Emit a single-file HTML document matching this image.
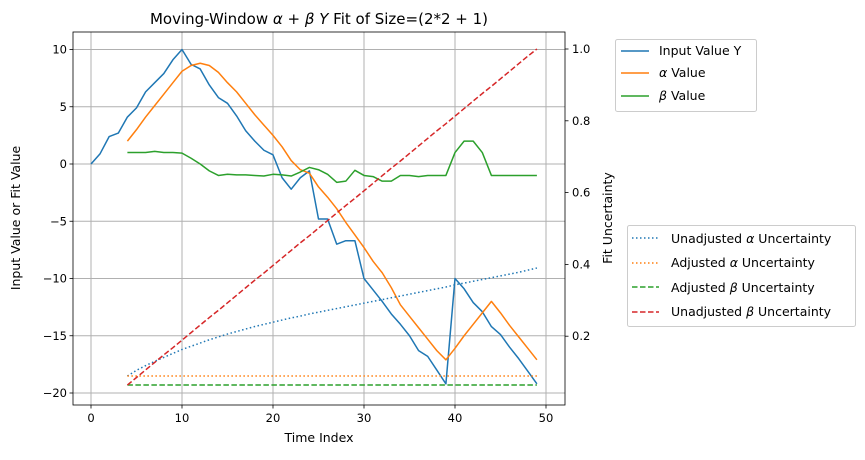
<!DOCTYPE html>
<html><head><meta charset="utf-8"><style>
body{margin:0;background:#fff;width:865px;height:455px;overflow:hidden}
svg{font-family:"DejaVu Sans","Liberation Sans",sans-serif}
</style></head><body>
<svg id="c" width="865" height="455" xmlns="http://www.w3.org/2000/svg"></svg>
<script>
const timeIndex=[...Array(50).keys()];
const inputY=[0,0.9,2.4,2.7,4.1,4.9,6.3,7.1,7.9,9.1,10,8.7,8.3,6.9,5.8,5.3,4.2,2.9,2.0,1.2,0.8,-1.2,-2.2,-1.2,-0.6,-4.8,-4.8,-7.0,-6.7,-6.7,-10,-11,-12,-13.1,-14,-15,-16.3,-16.8,-18,-19.2,-10,-10.9,-12.1,-12.9,-14.2,-14.9,-16,-17,-18.1,-19.2];
const fitStart=4;
const alphaVals=[2,3,4.1,5.1,6.1,7.1,8.1,8.6,8.8,8.6,8.0,7.1,6.3,5.3,4.3,3.4,2.5,1.5,0.3,-0.5,-0.8,-2.0,-2.9,-3.9,-5.1,-6.2,-7.3,-8.5,-9.5,-10.8,-12.3,-13.3,-14.3,-15.3,-16.3,-17.1,-16.1,-15,-14,-13,-12,-13,-14.1,-15.1,-16.1,-17.1];
const betaVals=[1,1,1,1.1,1,1,0.95,0.5,0,-0.6,-1.0,-0.9,-0.95,-0.95,-1,-1.05,-0.9,-0.95,-1.05,-0.7,-0.3,-0.5,-0.9,-1.6,-1.5,-0.55,-1,-1.1,-1.5,-1.5,-1,-1,-1.1,-1,-1,-1,1,2,2,1,-1,-1,-1,-1,-1,-1];
const unadjAlphaVals=[0.089,0.105,0.118,0.13,0.141,0.152,0.163,0.172,0.181,0.19,0.198,0.206,0.213,0.22,0.227,0.233,0.239,0.245,0.251,0.256,0.262,0.267,0.272,0.277,0.282,0.287,0.292,0.297,0.302,0.307,0.312,0.317,0.322,0.327,0.332,0.337,0.343,0.348,0.353,0.358,0.363,0.368,0.373,0.378,0.384,0.39];
const adjAlphaUnc=0.089;
const adjBetaUnc=0.064;
const unadjBetaVals=[0.064,0.085,0.106,0.127,0.148,0.168,0.189,0.210,0.231,0.252,0.272,0.293,0.314,0.335,0.356,0.376,0.397,0.418,0.439,0.460,0.480,0.501,0.522,0.543,0.564,0.584,0.605,0.626,0.647,0.668,0.688,0.709,0.730,0.751,0.772,0.792,0.813,0.834,0.855,0.876,0.896,0.917,0.938,0.959,0.980,1.0];
const xTicks=[0,10,20,30,40,50];
const yTicks=[10,5,0,-5,-10,-15,-20];
const y2Ticks=[0.2,0.4,0.6,0.8,1.0];

const L=73,R=565,T=32,B=405;
const X=v=>91+v*9.1;
const Y=v=>164-v*11.45;
const Y2=v=>408-v*359;
const svg=document.getElementById('c');
const NS='http://www.w3.org/2000/svg';
function mk(tag,attrs,parent){const e=document.createElementNS(NS,tag);for(const k in attrs)e.setAttribute(k,attrs[k]);(parent||svg).appendChild(e);return e;}
function txt(s,attrs){const e=mk('text',attrs);e.textContent=s;return e;}

xTicks.forEach(t=>{const g=mk('line',{x1:X(t),x2:X(t),y1:T,y2:B,stroke:'#b0b0b0','stroke-width':1});

});
yTicks.forEach(t=>{const g=mk('line',{x1:L,x2:R,y1:Y(t),y2:Y(t),stroke:'#b0b0b0','stroke-width':1});

});

function line(xs,ys,color,dash,name){
 const p=mk('polyline',{points:xs.map((x,i)=>x+','+ys[i]).join(' '),fill:'none',stroke:color,'stroke-width':1.5,'stroke-dasharray':dash||'none','stroke-linejoin':'round'});
 
 
}
const fitIdx=timeIndex.slice(fitStart);
line(timeIndex.map(X),inputY.map(Y),'#1f77b4',null,'input-value-line');
line(fitIdx.map(X),alphaVals.map(Y),'#ff7f0e',null,'alpha-value-line');
line(fitIdx.map(X),betaVals.map(Y),'#2ca02c',null,'beta-value-line');
line(fitIdx.map(X),unadjAlphaVals.map(Y2),'#1f77b4','1.5,2.5','unadjusted-alpha-uncertainty-line');
line(fitIdx.map(X),fitIdx.map(()=>Y2(adjAlphaUnc)),'#ff7f0e','1.5,2.5','adjusted-alpha-uncertainty-line');
line(fitIdx.map(X),fitIdx.map(()=>Y2(adjBetaUnc)),'#2ca02c','5.5,2.5','adjusted-beta-uncertainty-line');
line(fitIdx.map(X),unadjBetaVals.map(Y2),'#d62728','5.5,2.5','unadjusted-beta-uncertainty-line');

const fr=mk('rect',{x:L,y:T,width:R-L,height:B-T,fill:'none',stroke:'#000','stroke-width':0.8});



xTicks.forEach(t=>{mk('line',{x1:X(t),x2:X(t),y1:B,y2:B+3.5,stroke:'#000','stroke-width':0.8});
const e=txt(String(t),{x:X(t),y:B+17,'font-size':11.5,'text-anchor':'middle'});

});
yTicks.forEach(t=>{mk('line',{x1:L-3.5,x2:L,y1:Y(t),y2:Y(t),stroke:'#000','stroke-width':0.8});
const e=txt(String(t).replace('-','−'),{x:L-6,y:Y(t)+4,'font-size':11.5,'text-anchor':'end'});

});
y2Ticks.forEach(t=>{mk('line',{x1:R,x2:R+3.5,y1:Y2(t),y2:Y2(t),stroke:'#000','stroke-width':0.8});
const e=txt(t.toFixed(1),{x:R+7,y:Y2(t)+4,'font-size':11.5});

});
</script>
<svg width="865" height="455" style="position:absolute;left:0;top:0" xmlns="http://www.w3.org/2000/svg">
<g font-family="DejaVu Sans, Liberation Sans, sans-serif" font-size="12.5">
<text x="319" y="24" font-size="15" text-anchor="middle">Moving-Window <tspan font-style="italic">α</tspan> + <tspan font-style="italic">β Y</tspan> Fit of Size=(2*2 + 1)</text>
<text x="319" y="442" text-anchor="middle">Time Index</text>
<text transform="translate(20,218) rotate(-90)" text-anchor="middle">Input Value or Fit Value</text>
<text transform="translate(612,218) rotate(-90)" text-anchor="middle">Fit Uncertainty</text>
<g>
<rect x="615.5" y="39.5" width="141" height="72" rx="2" fill="#fff" stroke="#ccc"/>
<line x1="621" x2="649" y1="51" y2="51" stroke="#1f77b4" stroke-width="1.5"/><text x="659" y="55">Input Value Y</text>
<line x1="621" x2="649" y1="73" y2="73" stroke="#ff7f0e" stroke-width="1.5"/><text x="659" y="77"><tspan font-style="italic">α</tspan> Value</text>
<line x1="621" x2="649" y1="96" y2="96" stroke="#2ca02c" stroke-width="1.5"/><text x="659" y="100"><tspan font-style="italic">β</tspan> Value</text>
</g>
<g>
<rect x="627.5" y="225.5" width="228" height="101" rx="2" fill="#fff" stroke="#ccc"/>
<line x1="632" x2="659" y1="238" y2="238" stroke="#1f77b4" stroke-width="1.5" stroke-dasharray="1.5,2.5"/><text x="671" y="243">Unadjusted <tspan font-style="italic">α</tspan> Uncertainty</text>
<line x1="632" x2="659" y1="263" y2="263" stroke="#ff7f0e" stroke-width="1.5" stroke-dasharray="1.5,2.5"/><text x="671" y="267">Adjusted <tspan font-style="italic">α</tspan> Uncertainty</text>
<line x1="632" x2="659" y1="287" y2="287" stroke="#2ca02c" stroke-width="1.5" stroke-dasharray="5.5,2.5"/><text x="671" y="292">Adjusted <tspan font-style="italic">β</tspan> Uncertainty</text>
<line x1="632" x2="659" y1="312" y2="312" stroke="#d62728" stroke-width="1.5" stroke-dasharray="5.5,2.5"/><text x="671" y="316">Unadjusted <tspan font-style="italic">β</tspan> Uncertainty</text>
</g>
</g>
</svg>
</body></html>
